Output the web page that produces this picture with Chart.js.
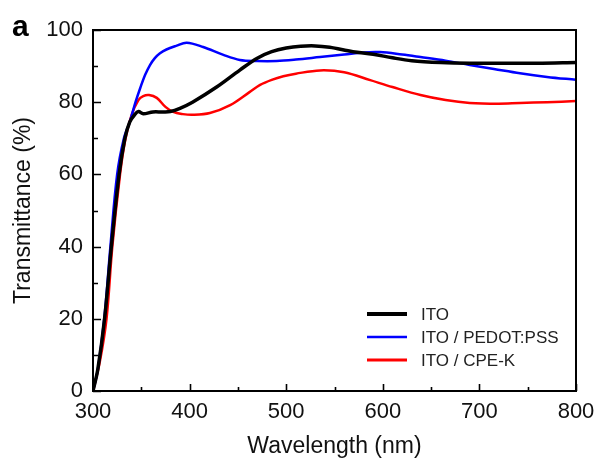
<!DOCTYPE html>
<html>
<head>
<meta charset="utf-8">
<script src="https://cdn.jsdelivr.net/npm/chart.js@4.4.0/dist/chart.umd.min.js"></script>
<style>
  html, body { margin: 0; padding: 0; background: #fff; }
  #wrap { width: 598px; height: 460px; }
</style>
</head>
<body>
<div id="wrap"><canvas id="c" width="598" height="460"></canvas></div>
<script>
// ---- data ----
const seriesLabels = ['ITO', 'ITO / PEDOT:PSS', 'ITO / CPE-K'];
const seriesColors = ['#000000', '#0000ff', '#ff0000'];

const itoWl = [300, 305, 312, 319, 327, 333, 338, 343, 347, 352, 362, 372, 380, 390, 403, 428, 452, 470, 485, 500, 515, 530, 545, 569, 590, 610, 630, 660, 690, 720, 760, 800];
const itoT  = [0,   6,   20,  40,  60,  70,  74.5,76.5,77.4,76.8,77.3,77.3,77.4,78.3,80,  84.2,88.9,92.2,94,  95,  95.5,95.6,95.2,94,  93.3,92.3,91.5,91,  90.8,90.8,90.8,91];

const pedotWl = [300, 305, 312, 318, 325, 332, 338, 344, 349, 354, 359, 364, 369, 376, 386, 397, 414, 435, 452, 470, 490, 510, 535, 560, 580, 597, 620, 639, 665, 690, 715, 742, 770, 800];
const pedotT  = [0,   6,   21,  40,  60,  70,  74.5,80,  84,  87.6,90.3,92.2,93.5,94.6,95.6,96.5,95.3,93.1,91.7,91.4,91.4,91.8,92.5,93.2,93.8,93.9,93.2,92.5,91.5,90.3,89.2,88,  87,  86.2];

const cpeWl = [300, 307, 314, 320, 328, 333, 340, 347, 352, 358, 366, 375, 383, 393, 403, 421, 442, 462, 473, 485, 497, 510, 535, 560, 587, 610, 639, 665, 690, 720, 742, 770, 800];
const cpeT  = [0,   8,   20,  40,  60,  69,  76.5,80.6,81.7,82,  81.2,78.7,77.3,76.7,76.5,77,  79.2,82.8,84.8,86.2,87.2,87.9,88.8,88.3,86.1,84.2,82,  80.6,79.8,79.6,79.8,80,  80.3];

const xTicks = [300, 400, 500, 600, 700, 800];
const yTicks = [0, 20, 40, 60, 80, 100];

function pts(xs, ys) { return xs.map((x, i) => ({ x: x, y: ys[i] })); }

const FONT = '"Liberation Sans", Arial, sans-serif';

// frame + inward ticks
const framePlugin = {
  id: 'frame',
  afterDatasetsDraw(chart) {
    const { ctx, chartArea: a, scales } = chart;
    const xs = scales.x, ys = scales.y;
    ctx.save();
    ctx.strokeStyle = '#000';
    ctx.lineWidth = 1.6;
    ctx.beginPath();
    for (let v = 300; v <= 800; v += 50) {
      const px = Math.round(xs.getPixelForValue(v)) + 0.5;
      const len = (v % 100 === 0) ? 7 : 4;
      ctx.moveTo(px, a.bottom);
      ctx.lineTo(px, a.bottom - len);
    }
    for (let v = 0; v <= 100; v += 10) {
      const py = Math.round(ys.getPixelForValue(v)) + 0.5;
      const len = (v % 20 === 0) ? 8 : 5;
      ctx.moveTo(a.left, py);
      ctx.lineTo(a.left + len, py);
    }
    ctx.stroke();
    ctx.lineWidth = 2;
    ctx.strokeRect(a.left, a.top, a.right - a.left, a.bottom - a.top);
    ctx.restore();
  },
  afterDraw(chart) {
    const { ctx } = chart;
    ctx.save();
    // panel letter
    ctx.fillStyle = '#000';
    ctx.font = 'bold 30px ' + FONT;
    ctx.textBaseline = 'alphabetic';
    ctx.textAlign = 'left';
    ctx.fillText('a', 12, 36);
    // legend
    const rows = [314, 337, 360];
    const widths = [4, 2.5, 3];
    ctx.font = '17px ' + FONT;
    ctx.textBaseline = 'middle';
    seriesLabels.forEach((lab, i) => {
      ctx.strokeStyle = seriesColors[i];
      ctx.lineWidth = widths[i];
      ctx.beginPath();
      ctx.moveTo(367, rows[i]);
      ctx.lineTo(407, rows[i]);
      ctx.stroke();
      ctx.fillStyle = '#222';
      ctx.fillText(lab, 421, rows[i] + 1);
    });
    ctx.restore();
  }
};

new Chart(document.getElementById('c'), {
  type: 'line',
  data: {
    datasets: [
      { label: seriesLabels[0], data: pts(itoWl, itoT), borderColor: seriesColors[0], borderWidth: 3.5 },
      { label: seriesLabels[1], data: pts(pedotWl, pedotT), borderColor: seriesColors[1], borderWidth: 2.5 },
      { label: seriesLabels[2], data: pts(cpeWl, cpeT), borderColor: seriesColors[2], borderWidth: 2.5 }
    ].map(d => Object.assign(d, { pointRadius: 0, fill: false, tension: 0.35 }))
  },
  options: {
    responsive: false,
    animation: false,
    layout: { padding: { top: 30, right: 22, left: 0, bottom: 0 } },
    plugins: { legend: { display: false }, tooltip: { enabled: false } },
    scales: {
      x: {
        type: 'linear', min: 300, max: 800,
        afterBuildTicks: s => { s.ticks = xTicks.map(v => ({ value: v })); },
        afterFit: s => { s.height = 69; s.paddingLeft = 0; s.paddingRight = 0; },
        grid: { display: false, drawTicks: false },
        border: { display: false },
        ticks: { color: '#111', padding: 8, maxRotation: 0, font: { family: FONT, size: 22 } },
        title: { display: true, text: 'Wavelength (nm)', color: '#111', padding: { top: 1, bottom: 0 }, font: { family: FONT, size: 23 } }
      },
      y: {
        min: 0, max: 100,
        afterBuildTicks: s => { s.ticks = yTicks.map(v => ({ value: v })); },
        afterFit: s => { s.width = 93; s.paddingTop = 0; s.paddingBottom = 0; },
        grid: { display: false, drawTicks: false },
        border: { display: false },
        ticks: { color: '#111', padding: 10, font: { family: FONT, size: 22 } },
        title: { display: true, text: 'Transmittance (%)', color: '#111', padding: { top: 10, bottom: 0 }, font: { family: FONT, size: 23 } }
      }
    }
  },
  plugins: [framePlugin]
});
</script>
</body>
</html>
